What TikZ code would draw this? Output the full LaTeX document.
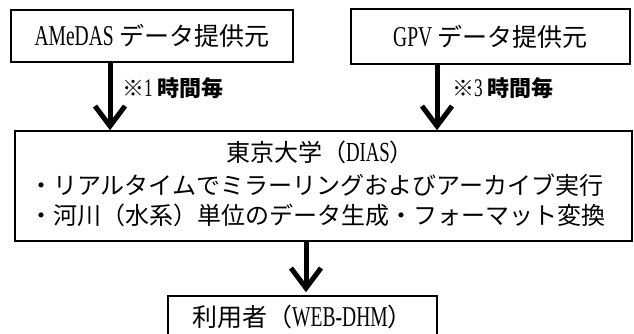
\documentclass[tikz,border=0pt]{standalone}
\usepackage{fontspec}
\setmainfont{Noto Sans CJK JP}
\newfontfamily\lat[FakeStretch=0.68,Scale=1.15]{Liberation Serif}
\usetikzlibrary{arrows.meta}
\begin{document}
\begin{tikzpicture}[x=1pt,y=-1pt,
  box/.style={draw,line width=1.6pt,inner sep=0pt,font=\fontsize{25}{30}\selectfont},
  bigarrow/.style={line width=5pt,-{Straight Barb[length=20pt,width=30pt]}},
  txt/.style={inner sep=0pt,font=\fontsize{24}{30}\selectfont},
  lbl/.style={inner sep=0pt,anchor=west,font=\fontsize{22}{26}\selectfont\bfseries}]
\useasboundingbox (0,0) rectangle (634,333);
\node[box,minimum width=282pt,minimum height=52pt] (src1) at (152,36) {{\lat AMeDAS} データ提供元};
\node[box,minimum width=279pt,minimum height=55pt] (src2) at (490.5,36.5) {{\lat GPV} データ提供元};
\node[box,minimum width=617pt,minimum height=110pt] (mid) at (323.5,186) {};
\node[txt] (title) at (320,152) {東京大学（{\lat DIAS}）};
\node[txt,anchor=west] (line1) at (29,185) {・リアルタイムでミラーリングおよびアーカイブ実行};
\node[txt,anchor=west] (line2) at (29,215) {・河川（水系）単位のデータ生成・フォーマット変換};
\node[box,minimum width=269pt,minimum height=42pt] (user) at (302.5,317) {利用者（{\lat WEB-DHM}）};
\coordinate (c1) at (110,0);
\coordinate (c2) at (437,0);
\coordinate (c3) at (306,0);
\draw[bigarrow] (c1 |- src1.south) -- (c1 |- mid.north);
\draw[bigarrow] (c2 |- src2.south) -- (c2 |- mid.north);
\draw[bigarrow,shorten >=3pt] (c3 |- mid.south) -- (c3 |- user.north);
\node[lbl] (lab1) at (122,88) {※{\lat\mdseries 1}\hspace{5pt}時間毎};
\node[lbl] (lab2) at (452,88) {※{\lat\mdseries 3}\hspace{5pt}時間毎};
\end{tikzpicture}
\end{document}
